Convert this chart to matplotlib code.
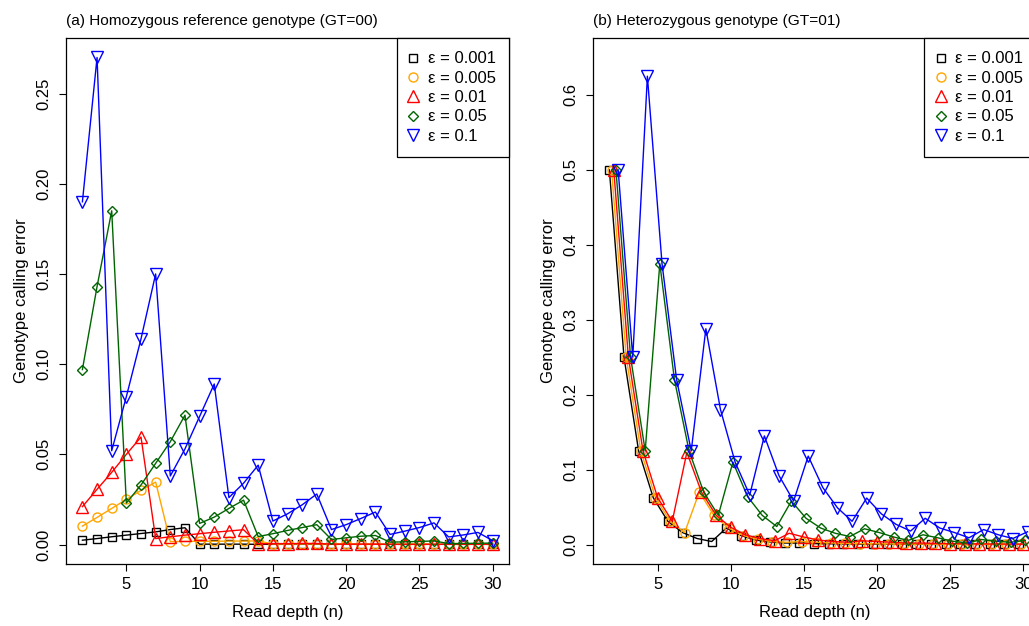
import matplotlib
matplotlib.use("Agg")
import matplotlib.pyplot as plt
import numpy as np

plt.rcParams['font.family'] = ['Liberation Sans', 'DejaVu Sans']

# dados
depth = list(range(2, 31))
eps_labels = ['ε = 0.001', 'ε = 0.005', 'ε = 0.01', 'ε = 0.05', 'ε = 0.1']

# (a) GT=00
hom_001 = [0.0024, 0.0033, 0.0043, 0.0052, 0.0061, 0.0070, 0.0083, 0.0093, 0.0002, 0.0002,
           0.0002, 0.0002, 0.0001, 0.0001, 0.0001, 0.0001, 0.0001, 0.0001, 0.0001, 0.0001,
           0.0001, 0.0001, 0.0001, 0.0001, 0.0001, 0.0001, 0.0001, 0.0001, 0.0001]
hom_005 = [0.0102, 0.0150, 0.0200, 0.0250, 0.0300, 0.0346, 0.0016, 0.0017, 0.0018, 0.0018,
           0.0019, 0.0019, 0.0020, 0.0003, 0.0003, 0.0003, 0.0003, 0.0003, 0.0003, 0.0002,
           0.0002, 0.0002, 0.0002, 0.0002, 0.0002, 0.0001, 0.0001, 0.0001, 0.0001]
hom_01 = [0.0210, 0.0306, 0.0400, 0.0500, 0.0596, 0.0033, 0.0043, 0.0052, 0.0060, 0.0068,
          0.0075, 0.0082, 0.0004, 0.0005, 0.0005, 0.0006, 0.0006, 0.0002, 0.0002, 0.0002,
          0.0002, 0.0001, 0.0001, 0.0001, 0.0001, 0.0001, 0.0001, 0.0001, 0.0001]
hom_05 = [0.0970, 0.1430, 0.1850, 0.0230, 0.0330, 0.0450, 0.0570, 0.0717, 0.0117, 0.0152,
          0.0200, 0.0246, 0.0044, 0.0060, 0.0078, 0.0094, 0.0110, 0.0028, 0.0037, 0.0046,
          0.0050, 0.0013, 0.0015, 0.0017, 0.0020, 0.0005, 0.0006, 0.0007, 0.0008]
hom_1 = [0.1900, 0.2700, 0.0520, 0.0820, 0.1140, 0.1500, 0.0380, 0.0530, 0.0710, 0.0890,
         0.0260, 0.0340, 0.0440, 0.0130, 0.0170, 0.0220, 0.0280, 0.0083, 0.0110, 0.0144,
         0.0180, 0.0056, 0.0074, 0.0094, 0.0120, 0.0042, 0.0053, 0.0067, 0.0022]

# (b) GT=01
het_001 = [0.5, 0.25, 0.125, 0.0625, 0.031, 0.016, 0.008, 0.004, 0.022, 0.012,
           0.006, 0.0035, 0.002, 0.002, 0.0012, 0.001, 0.0008, 0.0006, 0.0005, 0.0004,
           0.0003, 0.0003, 0.0002, 0.0002, 0.0002, 0.0001, 0.0001, 0.0001, 0.0001]
het_005 = [0.5, 0.25, 0.125, 0.0625, 0.031, 0.016, 0.070, 0.039, 0.022, 0.012,
           0.007, 0.004, 0.003, 0.004, 0.003, 0.002, 0.0015, 0.0012, 0.001, 0.0008,
           0.0007, 0.0006, 0.0005, 0.0004, 0.0003, 0.0003, 0.0002, 0.0002, 0.0002]
het_01 = [0.5, 0.25, 0.125, 0.0625, 0.031, 0.123, 0.070, 0.039, 0.023, 0.013,
          0.008, 0.005, 0.015, 0.010, 0.006, 0.004, 0.003, 0.005, 0.004, 0.003,
          0.002, 0.002, 0.0015, 0.0012, 0.001, 0.0008, 0.0007, 0.0006, 0.0005]
het_05 = [0.5, 0.25, 0.125, 0.375, 0.22, 0.125, 0.070, 0.039, 0.110, 0.064,
          0.039, 0.024, 0.058, 0.035, 0.022, 0.015, 0.0107, 0.021, 0.016, 0.010,
          0.0055, 0.013, 0.009, 0.0045, 0.002, 0.0067, 0.0044, 0.003, 0.0055]
het_1 = [0.5, 0.25, 0.625, 0.375, 0.22, 0.125, 0.288, 0.180, 0.110, 0.066,
         0.145, 0.092, 0.058, 0.118, 0.076, 0.049, 0.031, 0.062, 0.041, 0.027,
         0.018, 0.035, 0.022, 0.016, 0.009, 0.020, 0.013, 0.008, 0.017]

cores = ['black', 'orange', 'red', 'darkgreen', 'blue']
marcadores = ['s', 'o', '^', 'D', 'v']
tamanhos = [6, 6.5, 8, 5.5, 8]
deslocamento = [-0.3, -0.15, 0, 0.15, 0.3]  # pequeno jitter no painel (b)

fig = plt.figure(figsize=(10.29, 6.26), dpi=100)
ax1 = fig.add_axes([66 / 1029, 62 / 626, 443 / 1029, 526 / 626])
ax2 = fig.add_axes([593 / 1029, 62 / 626, 443 / 1029, 526 / 626])

def yticks_fmt(vals):
    if max(vals) < 0.3:
        return ['%.2f' % v for v in vals]
    return ['%.1f' % v for v in vals]

def painel(ax, series, offsets, titulo, yticks, ylim, xlim):
    x = np.array(depth, dtype=float)
    for s, c, m, ms, dx, lab in zip(series, cores, marcadores, tamanhos, offsets, eps_labels):
        ax.plot(x + dx, s, color=c, linewidth=1)
        ax.plot(x + dx, s, linestyle='none', marker=m, markersize=ms,
                markerfacecolor='none', markeredgecolor=c, markeredgewidth=1, label=lab)
    ax.set_xlim(xlim)
    ax.set_ylim(ylim)
    ax.set_xticks([5, 10, 15, 20, 25, 30])
    ax.set_yticks(yticks)
    ax.set_yticklabels(yticks_fmt(yticks))
    ax.tick_params(direction='out', length=5, width=0.8, labelsize=12)
    ax.tick_params(axis='x', pad=4.5)
    ax.tick_params(axis='y', labelrotation=90, pad=5.5)
    for lbl in ax.get_yticklabels():
        lbl.set_va('center')
    for sp in ax.spines.values():
        sp.set_linewidth(0.9)
    ax.set_xlabel('Read depth (n)', fontsize=12, labelpad=9)
    ax.set_ylabel('Genotype calling error', fontsize=12, labelpad=5)
    ax.set_title(titulo, loc='left', fontsize=11.1, pad=9)
    leg = ax.legend(loc='upper right', borderaxespad=0, fancybox=False, framealpha=1,
                    edgecolor='black', fontsize=12, handlelength=0.4, handletextpad=0.65,
                    borderpad=0.8, labelspacing=0.26)
    leg.get_frame().set_linewidth(0.9)

painel(ax1, [hom_001, hom_005, hom_01, hom_05, hom_1], [0] * 5,
       '(a) Homozygous reference genotype (GT=00)',
       [0.0, 0.05, 0.10, 0.15, 0.20, 0.25], (-0.0108, 0.2808), (0.88, 31.12))
painel(ax2, [het_001, het_005, het_01, het_05, het_1], deslocamento,
       '(b) Heterozygous genotype (GT=01)',
       [0.0, 0.1, 0.2, 0.3, 0.4, 0.5, 0.6], (-0.026, 0.676), (0.58, 30.88))

fig.savefig('out.png', dpi=100)
